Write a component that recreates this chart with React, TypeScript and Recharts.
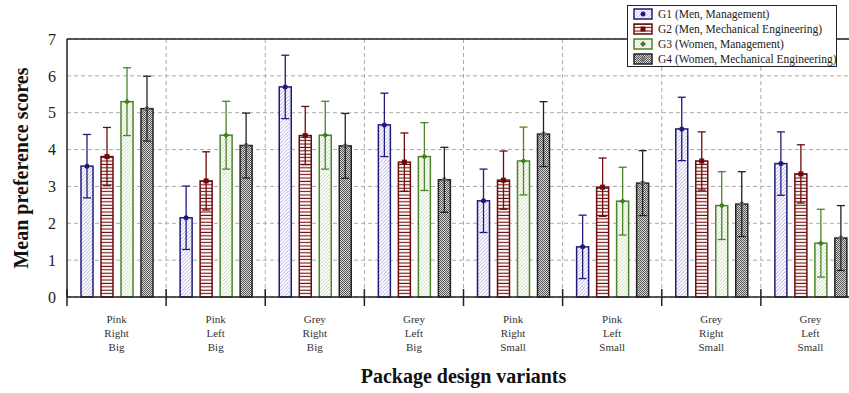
import React from 'react';
import { BarChart, Bar, XAxis, YAxis, CartesianGrid, ErrorBar, ReferenceLine } from 'recharts';

const categories = [
    'Pink Right Big',
    'Pink Left Big',
    'Grey Right Big',
    'Grey Left Big',
    'Pink Right Small',
    'Pink Left Small',
    'Grey Right Small',
    'Grey Left Small',
];

const groupNames = [
    'G1 (Men, Management)',
    'G2 (Men, Mechanical Engineering)',
    'G3 (Women, Management)',
    'G4 (Women, Mechanical Engineering)',
];

// mean scores per group
const g1 = [3.55, 2.15, 5.7, 4.67, 2.61, 1.36, 4.56, 3.62];
const g2 = [3.81, 3.15, 4.38, 3.66, 3.17, 2.98, 3.69, 3.34];
const g3 = [5.3, 4.39, 4.39, 3.81, 3.69, 2.6, 2.48, 1.46];
const g4 = [5.11, 4.11, 4.1, 3.18, 4.42, 3.09, 2.52, 1.6];

// error bar half-lengths
const e1 = [0.86, 0.86, 0.86, 0.86, 0.86, 0.86, 0.86, 0.86];
const e2 = [0.79, 0.79, 0.79, 0.79, 0.79, 0.79, 0.79, 0.79];
const e3 = [0.92, 0.92, 0.92, 0.92, 0.92, 0.92, 0.92, 0.92];
const e4 = [0.88, 0.88, 0.88, 0.88, 0.88, 0.88, 0.88, 0.88];

const yTicks = [0, 1, 2, 3, 4, 5, 6, 7];

const data = categories.map((name, i) => ({
    name,
    g1: g1[i], g2: g2[i], g3: g3[i], g4: g4[i],
    e1: e1[i], e2: e2[i], e3: e3[i], e4: e4[i],
}));

const FONT = '"Liberation Serif", "Times New Roman", serif';
const edgeColors = ['#1f1a7c', '#6e0b0b', '#4b8527', '#222222'];
const markerColors = ['#1f1a7c', '#6e0b0b', '#3f7a1e', '#777777'];
const errColors = ['#1f1a7c', '#6e0b0b', '#4b8527', '#222222'];

function Patterns({ prefix }: { prefix: string }) {
    return (
        <defs>
            <pattern id={`${prefix}-p0`} width="3.5" height="3.5" patternUnits="userSpaceOnUse">
                <rect width="3.5" height="3.5" fill="#fff" />
                <path d="M-1,4.5 L4.5,-1" stroke="#9c98d4" strokeWidth="0.8" />
            </pattern>
            <pattern id={`${prefix}-p1`} width="4" height="3.4" patternUnits="userSpaceOnUse">
                <rect width="4" height="3.4" fill="#fff" />
                <line x1="0" y1="1.2" x2="4" y2="1.2" stroke="#6e0b0b" strokeWidth="1.1" />
            </pattern>
            <pattern id={`${prefix}-p2`} width="3.5" height="3.5" patternUnits="userSpaceOnUse">
                <rect width="3.5" height="3.5" fill="#fff" />
                <path d="M-1,4.5 L4.5,-1" stroke="#b2cc9c" strokeWidth="0.8" />
            </pattern>
            <pattern id={`${prefix}-p3`} width="2" height="2" patternUnits="userSpaceOnUse">
                <rect width="2" height="2" fill="#d8d8d8" />
                <rect width="1" height="1" fill="#555" />
                <rect x="1" y="1" width="1" height="1" fill="#555" />
            </pattern>
        </defs>
    );
}

function Marker({ g, cx, cy }: { g: number; cx: number; cy: number }) {
    const c = markerColors[g];
    if (g === 1) return <rect x={cx - 2.5} y={cy - 2.5} width={5} height={5} fill={c} />;
    if (g === 2) return <path d={`M${cx},${cy - 3} L${cx + 3},${cy} L${cx},${cy + 3} L${cx - 3},${cy} Z`} fill={c} />;
    return <circle cx={cx} cy={cy} r={2.5} fill={c} />;
}

function BarShape(props: any) {
    const { x, y, width, height, g } = props;
    if (width == null || height == null) return null;
    return (
        <g>
            <rect x={x} y={y} width={width} height={height} fill={`url(#main-p${g})`} stroke={edgeColors[g]} strokeWidth={1.5} />
            <Marker g={g} cx={x + width / 2} cy={y} />
        </g>
    );
}

function CategoryTick(props: any) {
    const { x, y, payload, index } = props;
    const half = payload.offset || 0;
    const lines = String(payload.value).split(' ');
    return (
        <g>
            <line x1={x - half} y1={y - 8} x2={x - half} y2={y + 9} stroke="#222" strokeWidth={1.5} />
            {index === categories.length - 1 && (
                <line x1={x + half} y1={y - 8} x2={x + half} y2={y + 9} stroke="#222" strokeWidth={1.5} />
            )}
            {lines.map((l, i) => (
                <text key={i} x={x} y={y + 26 + i * 14} textAnchor="middle" fontSize={11} fill="#333" fontFamily={FONT}>
                    {l}
                </text>
            ))}
        </g>
    );
}

function LegendBox() {
    return (
        <div
            style={{
                position: 'absolute',
                left: 627,
                top: 5,
                width: 210,
                height: 62,
                border: '1.5px solid #222',
                background: '#fff',
                padding: '1px 0 0 5px',
                boxSizing: 'border-box',
                fontFamily: FONT,
                fontSize: 11.5,
                color: '#222',
            }}
        >
            <svg width={0} height={0} style={{ position: 'absolute' }}>
                <Patterns prefix="leg" />
            </svg>
            {groupNames.map((n, g) => (
                <div key={n} style={{ height: 14.8, display: 'flex', alignItems: 'center', whiteSpace: 'nowrap' }}>
                    <svg width={21} height={12} style={{ marginRight: 4, flexShrink: 0 }}>
                        <rect x={1} y={1} width={18} height={10} fill={`url(#leg-p${g})`} stroke={edgeColors[g]} strokeWidth={1.5} />
                        <Marker g={g} cx={10} cy={6} />
                    </svg>
                    <span>{n}</span>
                </div>
            ))}
        </div>
    );
}

export default function App() {
    const keys = ['g1', 'g2', 'g3', 'g4'];
    const errKeys = ['e1', 'e2', 'e3', 'e4'];
    return (
        <div style={{ position: 'fixed', left: 0, top: 0, width: 849, height: 393, overflow: 'hidden', background: '#fff' }}>
            <BarChart
                width={870}
                height={393}
                data={data}
                margin={{ top: 39, right: 10, bottom: 0, left: 0 }}
                barSize={12}
                barGap={8}
                style={{ fontFamily: FONT }}
            >
                <Patterns prefix="main" />
                <CartesianGrid
                    stroke="#aaa"
                    strokeDasharray="4 3"
                    verticalCoordinatesGenerator={({ offset }: any) =>
                        categories.slice(1).map((_, i) => offset.left + ((i + 1) * offset.width) / categories.length)
                    }
                />
                <XAxis
                    dataKey="name"
                    height={96}
                    tickLine={false}
                    tickSize={0}
                    tickMargin={0}
                    interval={0}
                    axisLine={{ stroke: '#222', strokeWidth: 1.5 }}
                    tick={<CategoryTick />}
                    label={({ viewBox }: any) => (
                        <text
                            x={viewBox.x + viewBox.width / 2}
                            y={383}
                            textAnchor="middle"
                            fontSize={20}
                            fontWeight="bold"
                            fill="#111"
                            fontFamily={FONT}
                        >
                            Package design variants
                        </text>
                    )}
                />
                <YAxis
                    width={67}
                    domain={[0, 7]}
                    ticks={yTicks}
                    interval={0}
                    tickLine={false}
                    tickSize={6}
                    tickMargin={5}
                    axisLine={{ stroke: '#222', strokeWidth: 1.5 }}
                    tick={{ fontSize: 16, fill: '#222', fontFamily: FONT }}
                    label={({ viewBox }: any) => {
                        const cy = viewBox.y + viewBox.height / 2;
                        return (
                            <text
                                x={28}
                                y={cy}
                                transform={`rotate(-90, 28, ${cy})`}
                                textAnchor="middle"
                                fontSize={20}
                                fontWeight="bold"
                                fill="#111"
                                fontFamily={FONT}
                            >
                                Mean preference scores
                            </text>
                        );
                    }}
                />
                <ReferenceLine y={7} stroke="#222" strokeWidth={1.5} />
                {keys.map((k, g) => (
                    <Bar key={k} dataKey={k} isAnimationActive={false} shape={(p: any) => <BarShape {...p} g={g} />}>
                        <ErrorBar dataKey={errKeys[g]} width={4} stroke={errColors[g]} strokeWidth={1.3} direction="y" />
                    </Bar>
                ))}
            </BarChart>
            <LegendBox />
        </div>
    );
}
